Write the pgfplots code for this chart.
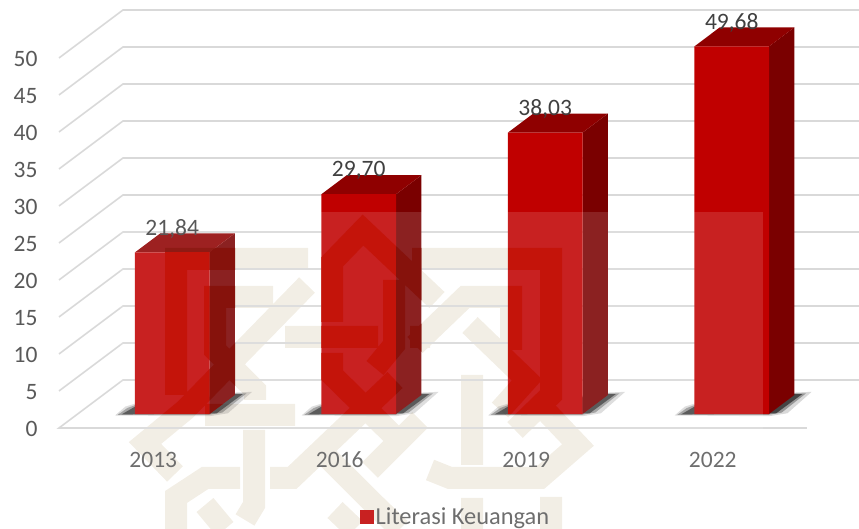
\documentclass[border=0pt]{standalone}
\usepackage{pgfplots}
\pgfplotsset{compat=1.18}
\usepackage{fontspec}
\setmainfont[Numbers=Lining]{Carlito}
\definecolor{barfront}{HTML}{C00000}
\definecolor{bartop}{HTML}{8F0000}
\definecolor{barside}{HTML}{7A0000}
\definecolor{gridgray}{HTML}{D9D9D9}
\definecolor{ticktext}{HTML}{595959}
\definecolor{labeltext}{HTML}{404040}
\definecolor{logotan}{RGB}{241,236,226}
\definecolor{logofront}{HTML}{C4140A}
\definecolor{logoside}{HTML}{86120C}
\definecolor{logotop}{HTML}{8E1A14}
\newcommand{\bigfont}{\fontsize{23.5}{27}\selectfont}
% watermark bands, centre lines in reference pixels
\newcommand{\logobands}{
    (176,395) -- (176,259) -- (308,259)
    (273,297) -- (215,297) -- (215,350) -- (255,390) -- (255,400)
    (307,285) -- (185,410) -- (145,443) -- (175,474)
    (285,337) -- (378,337)
    (332,322) -- (332,262) -- (363,230) -- (437,300)
    (332,353) -- (332,375) -- (398,440)
    (205,415) -- (295,415)
    (176,529) -- (176,497) -- (205,478) -- (240,478)
    (254,430) -- (254,505) -- (245,520)
    (205,505) -- (225,529)
    (270,478) -- (292,478) -- (395,380)
    (325,455) -- (385,515)
    (335,510) -- (355,529)
    (472,375) -- (472,465)
    (472,498) -- (472,529)
    (370,470) -- (420,420)
    (430,470) -- (450,478) -- (540,478) -- (578,445) -- (540,405)
    (370,500) -- (400,529)
    (551,529) -- (551,497)
    (412,259) -- (551,259) -- (551,395) -- (515,430)
    (415,345) -- (465,297) -- (511,297) -- (511,350)
    (470,325) -- (527,380) -- (500,410)
    (410,337) -- (430,337)
    (394,280) -- (394,345) -- (375,368)
}
\begin{document}
\begin{tikzpicture}
% page in reference pixels, axis corner sits at px (59,428)
\path[use as bounding box] (-59pt,-101pt) rectangle (800pt,428pt);
\begin{scope}[x=1pt, y=-1pt, shift={(-59pt,428pt)}]
\clip (120,212) rectangle (763,529);
\draw[logotan, line width=22pt, miter limit=4] \logobands;
\end{scope}
\begin{axis}[
    scale only axis,
    x=186.5pt, y=7.4pt,
    xmin=-0.5056, xmax=3.784,
    ymin=-1.89, ymax=54.6,
    clip=false,
    axis line style={draw=none},
    major tick length=0pt,
    xtick={0,1,2,3},
    xticklabels={2013,2016,2019,2022},
    ytick={0,5,...,50},
    tick label style={font=\bigfont, text=ticktext},
    /pgf/number format/assume math mode=true,
    xticklabel style={yshift=-21pt, text height=15pt, text depth=0pt},
    yticklabel style={anchor=east, xshift=-18pt, yshift=-15pt},
    legend style={at={(axis cs:1.62,-13.85)}, anchor=center, draw=none, fill=none,
        font=\fontsize{24.4}{28}\selectfont, text=ticktext, inner sep=0pt},
]
% slanted wall and floor lines
\pgfplotsinvokeforeach{5,10,...,50}{
    \addplot[gridgray, line width=1.6pt, forget plot] coordinates
        {(-0.5056,{#1-1.89}) (-0.1625,{#1+4.595}) (3.784,{#1+4.595})};
}
\addplot[gridgray, line width=1.6pt, forget plot] coordinates
    {(3.505,-1.89) (-0.5056,-1.89) (-0.1625,4.595) (3.784,4.595)};
% shadows on the floor
\pgfplotsinvokeforeach{0,1,2,3}{
    \addplot[fill=black, draw=none, opacity=0.15, forget plot] coordinates
        {({#1-0.205},-0.2) ({#1-0.15},1.0) ({#1-0.098},1.4) ({#1+0.44},2.9) ({#1+0.53},3.0) ({#1+0.40},0.1) ({#1+0.30},-0.3)} --cycle;
    \addplot[fill=black, draw=none, opacity=0.30, forget plot] coordinates
        {({#1-0.19},-0.1) ({#1-0.14},0.8) ({#1-0.098},1.2) ({#1+0.44},2.8) ({#1+0.50},2.8) ({#1+0.37},0.2) ({#1+0.30},-0.1)} --cycle;
    \addplot[fill=black, draw=none, opacity=0.55, forget plot] coordinates
        {({#1-0.17},-0.05) ({#1-0.125},0.6) ({#1-0.098},1.0) ({#1+0.44},2.7) ({#1+0.48},2.7) ({#1+0.34},0.1)} --cycle;
}
% side faces
\addplot[fill=barside, draw=none, forget plot] coordinates {(0.3016,0) (0.4373,2.57) (0.4373,24.41) (0.3016,21.84)} --cycle;
\addplot[fill=barside, draw=none, forget plot] coordinates {(1.3016,0) (1.4373,2.57) (1.4373,32.27) (1.3016,29.70)} --cycle;
\addplot[fill=barside, draw=none, forget plot] coordinates {(2.3016,0) (2.4373,2.57) (2.4373,40.60) (2.3016,38.03)} --cycle;
\addplot[fill=barside, draw=none, forget plot] coordinates {(3.3016,0) (3.4373,2.57) (3.4373,52.25) (3.3016,49.68)} --cycle;
% top faces
\addplot[fill=bartop, draw=none, forget plot] coordinates {(-0.0984,21.84) (0.3016,21.84) (0.4373,24.41) (0.0373,24.41)} --cycle;
\addplot[fill=bartop, draw=none, forget plot] coordinates {(0.9016,29.70) (1.3016,29.70) (1.4373,32.27) (1.0373,32.27)} --cycle;
\addplot[fill=bartop, draw=none, forget plot] coordinates {(1.9016,38.03) (2.3016,38.03) (2.4373,40.60) (2.0373,40.60)} --cycle;
\addplot[fill=bartop, draw=none, forget plot] coordinates {(2.9016,49.68) (3.3016,49.68) (3.4373,52.25) (3.0373,52.25)} --cycle;
% front faces, with the value labels
\addplot[ybar, bar width=74.6pt, bar shift=18.95pt, fill=barfront, draw=none,
    legend image code/.code={\fill[barfront] (-13pt,-7pt) rectangle (1pt,7pt);},
    nodes near coords,
    every node near coord/.append style={anchor=center, xshift=18.95pt, yshift=23.5pt, font=\bigfont, text=labeltext,
        /pgf/number format/.cd, fixed, fixed zerofill, precision=2, use comma},
] coordinates {(0,21.84) (1,29.70) (2,38.03) (3,49.68)};
\addlegendentry{Literasi Keuangan}
\end{axis}
% white veil of the watermark, then its bands where they cross the bars
\begin{scope}[x=1pt, y=-1pt, shift={(-59pt,428pt)}]
\fill[white, opacity=0.13] (120,212) rectangle (763,529);
\begin{scope}
\clip (135,252) rectangle (209.5,414) (321.3,212) rectangle (396,414) (508,212) rectangle (582.7,414);
\draw[logofront, line width=22pt, miter limit=4] \logobands;
\end{scope}
\begin{scope}
\clip (209.5,252) -- (235,233) -- (235,395) -- (209.5,414) -- cycle
    (396,212) -- (421.3,212) -- (421.3,395) -- (396,414) -- cycle;
\draw[logoside, line width=22pt, miter limit=4] \logobands;
\end{scope}
\begin{scope}
\clip (135,252) -- (160,233) -- (235,233) -- (209.5,252) -- cycle;
\draw[logotop, line width=22pt, miter limit=4] \logobands;
\end{scope}
\end{scope}
\end{tikzpicture}
\end{document}
